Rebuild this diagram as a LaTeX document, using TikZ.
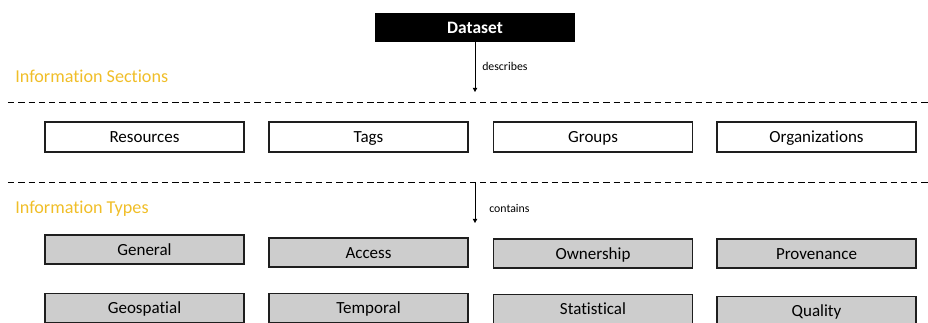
\documentclass[tikz,border=0pt]{standalone}
\usepackage{fontspec}
\setmainfont{Carlito}[Ligatures=NoCommon]
\usetikzlibrary{arrows.meta,positioning}
\definecolor{secgold}{RGB}{240,190,40}
\definecolor{boxgray}{RGB}{205,205,205}
\definecolor{boxline}{RGB}{30,30,30}

\begin{document}
\begin{tikzpicture}[
  infobox/.style={draw=boxline, line width=0.8pt, minimum width=4.975cm, minimum height=0.75cm, inner sep=0pt, text height=1.95ex, text depth=0.25ex, font=\fontsize{12.1}{14}\selectfont},
  typebox/.style={infobox, fill=boxgray, minimum height=0.725cm},
  sectitle/.style={anchor=west, text=secgold, inner sep=0pt, font=\fontsize{12.9}{15}\selectfont},
  rellabel/.style={anchor=west, inner sep=0pt, font=\fontsize{8.4}{10}\selectfont},
  sepline/.style={dash pattern=on 4.5pt off 2.8pt, line width=0.7pt}]
\clip (0,0) rectangle (23.2,8.05);
% Dataset
\node[fill=black, text=white, minimum width=5cm, minimum height=0.725cm, inner sep=0pt, font=\fontsize{12.4}{15}\selectfont\bfseries] (dataset) at (11.875,7.3625) {Dataset};
\coordinate (descend) at (11.875,5.75);
\draw[-{Triangle[length=3pt, width=3.2pt]}, line width=0.6pt] (dataset) -- (descend);
\node[rellabel] (describes) at (12.05,6.4) {describes};
% Information sections
\node[sectitle] (sections) at (0.375,6.15) {Information Sections};
\coordinate (sep1l) at (0.2,5.5);
\coordinate (sep1r) at (23.2,5.5);
\draw[sepline] (sep1l) -- (sep1r);
\node[infobox] (resources) at (3.6125,4.625) {Resources};
\node[infobox] (tags) at (9.2125,4.625) {Tags};
\node[infobox] (groups) at (14.825,4.625) {Groups};
\node[infobox] (orgs) at (20.4125,4.625) {Organizations};
% Information types
\coordinate (sep2l) at (0.2,3.5);
\coordinate (sep2r) at (23.2,3.5);
\draw[sepline] (sep2l) -- (sep2r);
\coordinate (contstart) at (11.875,3.5);
\coordinate (contend) at (11.875,2.475);
\draw[-{Triangle[length=3pt, width=3.2pt]}, line width=0.6pt] (contstart) -- (contend);
\node[rellabel] (contains) at (12.225,2.85) {contains};
\node[sectitle] (types) at (0.375,2.825) {Information Types};
\node[typebox] (general) at (3.6125,1.8125) {General};
\node[typebox] (access) at (9.2125,1.7375) {Access};
\node[typebox] (ownership) at (14.825,1.7125) {Ownership};
\node[typebox] (provenance) at (20.4125,1.7125) {Provenance};
\node[typebox] (geospatial) at (3.6125,0.35) {Geospatial};
\node[typebox] (temporal) at (9.2125,0.35) {Temporal};
\node[typebox] (statistical) at (14.825,0.325) {Statistical};
\node[typebox] (quality) at (20.4125,0.275) {Quality};
\end{tikzpicture}
\end{document}
